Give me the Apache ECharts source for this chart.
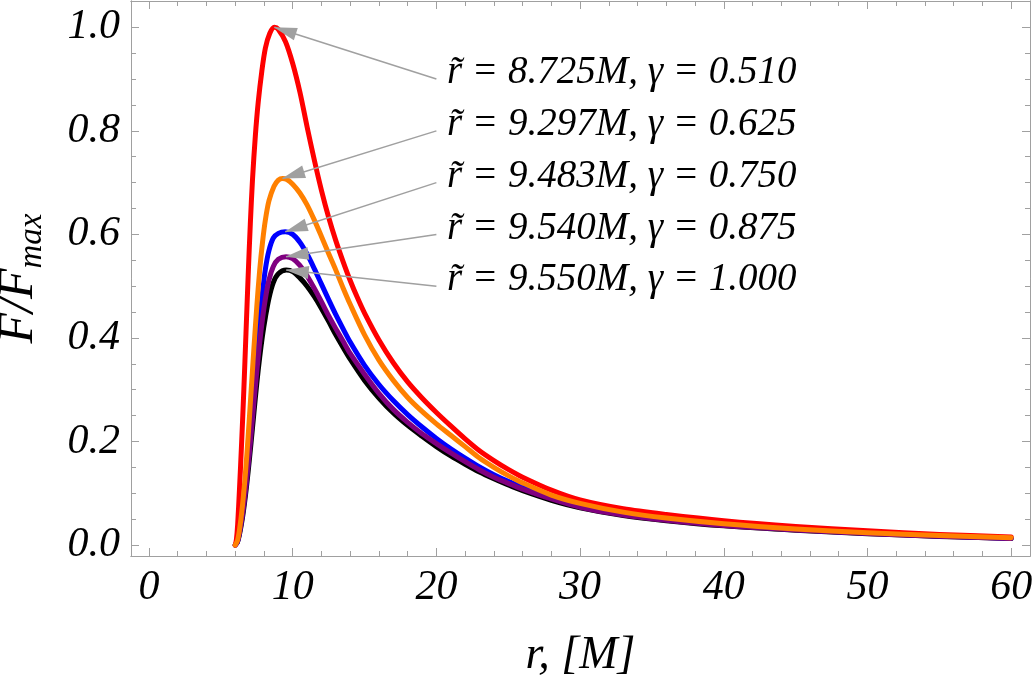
<!DOCTYPE html>
<html><head><meta charset="utf-8">
<script src="https://cdn.jsdelivr.net/npm/echarts@6/dist/echarts.min.js"></script>
<style>html,body{margin:0;padding:0;background:#fff}#c{width:1035px;height:681px}</style>
</head><body><div id="c"></div>
<script>
// ---- tick labels ----
const xMajorTicks = [0, 10, 20, 30, 40, 50, 60];
const xMinorTicks = [2, 4, 6, 8, 12, 14, 16, 18, 22, 24, 26, 28, 32, 34, 36, 38, 42, 44, 46, 48, 52, 54, 56, 58];
const yMajorTicks = [0, 0.2, 0.4, 0.6, 0.8, 1.0];
const yMinorTicks = [0.05, 0.1, 0.15, 0.25, 0.3, 0.35, 0.45, 0.5, 0.55, 0.65, 0.7, 0.75, 0.85, 0.9, 0.95];

// ---- series values [r, F/Fmax] ----
const curveG0510 = [[6.0,0],[6.08,0.01],[6.17,0.04],[6.3,0.11],[6.45,0.2],[6.6,0.3],[6.75,0.41],[6.9,0.52],[7.05,0.62],[7.2,0.705],[7.4,0.79],[7.6,0.855],[7.85,0.915],[8.1,0.96],[8.4,0.988],[8.725,1.0],[9.0,0.996],[9.5,0.972],[10,0.93],[10.5,0.875],[11,0.808],[11.5,0.744],[12,0.685],[12.5,0.633],[13,0.588],[13.5,0.548],[14,0.511],[14.5,0.478],[15,0.448],[16,0.396],[17,0.352],[18,0.315],[19,0.284],[20,0.256],[21,0.23],[22,0.205],[23,0.182],[24,0.163],[25,0.146],[26,0.131],[28,0.106],[30,0.087],[33,0.07],[36,0.059],[40,0.047],[45,0.036],[50,0.0275],[55,0.0205],[60,0.0155]];
const curveG0625 = [[6.0,0],[6.15,0.008],[6.3,0.03],[6.5,0.075],[6.7,0.135],[6.9,0.21],[7.1,0.295],[7.3,0.38],[7.5,0.46],[7.7,0.53],[7.9,0.585],[8.1,0.628],[8.35,0.665],[8.7,0.693],[9.0,0.705],[9.297,0.708],[9.6,0.706],[10,0.697],[10.5,0.68],[11,0.657],[11.5,0.628],[12,0.596],[12.5,0.563],[13,0.531],[13.5,0.497],[14,0.465],[15,0.406],[16,0.357],[17,0.318],[18,0.285],[19,0.258],[20,0.234],[21,0.212],[22,0.19],[23,0.168],[24,0.15],[25,0.134],[26,0.12],[28,0.0965],[30,0.0805],[33,0.0635],[36,0.052],[40,0.041],[45,0.031],[50,0.0238],[55,0.0182],[60,0.014]];
const curveG0750 = [[6.0,0],[6.15,0.006],[6.3,0.025],[6.5,0.06],[6.7,0.105],[6.9,0.16],[7.1,0.225],[7.3,0.295],[7.5,0.365],[7.7,0.43],[7.9,0.488],[8.1,0.533],[8.35,0.569],[8.65,0.593],[9.0,0.602],[9.483,0.605],[10,0.6],[10.5,0.585],[11,0.562],[11.5,0.534],[12,0.504],[12.5,0.474],[13,0.445],[13.5,0.418],[14,0.392],[15,0.347],[16,0.31],[17,0.279],[18,0.252],[19,0.228],[20,0.206],[21,0.186],[22,0.168],[23,0.151],[24,0.136],[25,0.123],[26,0.112],[28,0.092],[30,0.076],[33,0.06],[36,0.0495],[40,0.039],[45,0.03],[50,0.023],[55,0.0175],[60,0.0133]];
const curveG0875 = [[6.0,0],[6.15,0.006],[6.3,0.024],[6.5,0.058],[6.7,0.102],[6.9,0.155],[7.1,0.213],[7.3,0.275],[7.5,0.335],[7.7,0.39],[7.9,0.437],[8.1,0.476],[8.35,0.512],[8.65,0.538],[9.0,0.552],[9.54,0.557],[10,0.553],[10.5,0.54],[11,0.52],[11.5,0.496],[12,0.47],[12.5,0.443],[13,0.418],[13.5,0.394],[14,0.37],[15,0.33],[16,0.293],[17,0.262],[18,0.237],[19,0.215],[20,0.196],[21,0.178],[22,0.161],[23,0.145],[24,0.131],[25,0.119],[26,0.108],[28,0.089],[30,0.073],[33,0.058],[36,0.0478],[40,0.0375],[45,0.029],[50,0.0223],[55,0.017],[60,0.0128]];
const curveG1000 = [[6.0,0],[6.15,0.005],[6.3,0.021],[6.5,0.052],[6.7,0.093],[6.9,0.142],[7.1,0.197],[7.3,0.255],[7.5,0.312],[7.7,0.362],[7.9,0.405],[8.1,0.44],[8.35,0.477],[8.65,0.507],[9.0,0.524],[9.55,0.531],[10,0.528],[10.5,0.516],[11,0.5],[11.5,0.48],[12,0.457],[12.5,0.432],[13,0.406],[13.5,0.382],[14,0.359],[15,0.318],[16,0.284],[17,0.255],[18,0.231],[19,0.21],[20,0.19],[21,0.172],[22,0.156],[23,0.141],[24,0.128],[25,0.116],[26,0.105],[28,0.0865],[30,0.072],[33,0.057],[36,0.047],[40,0.037],[45,0.0285],[50,0.022],[55,0.0167],[60,0.0125]];

// ---- annotations ----
const annTexts = ['r\u0303 = 8.725M, \u03b3 = 0.510', 'r\u0303 = 9.297M, \u03b3 = 0.625', 'r\u0303 = 9.483M, \u03b3 = 0.750', 'r\u0303 = 9.540M, \u03b3 = 0.875', 'r\u0303 = 9.550M, \u03b3 = 1.000'];
const annStart = [[20, 0.9], [20, 0.8], [20, 0.7], [20, 0.6], [20, 0.5]];
const annPeaks = [[8.725, 1.0], [9.297, 0.708], [9.483, 0.605], [9.54, 0.557], [9.55, 0.531]];

const FONT = "'Liberation Serif', 'Times New Roman', serif";
const GRAY = '#a0a0a0';
const X_MIN = -1.253, X_MAX = 61.31, Y_MIN = -0.0212, Y_MAX = 1.0508;

function xAx(pos, ticks, len, labels) {
  return {
    type: 'value', gridIndex: 0, position: pos, min: X_MIN, max: X_MAX,
    axisLine: { show: true, onZero: false, lineStyle: { color: GRAY, width: 1 } },
    axisTick: { show: true, inside: true, length: len, customValues: ticks, lineStyle: { color: GRAY, width: 1 } },
    axisLabel: labels ? { show: true, customValues: ticks, margin: 11, fontFamily: FONT, fontStyle: 'italic', fontSize: 42, color: '#000' } : { show: false },
    splitLine: { show: false }
  };
}
function yAx(pos, ticks, len, labels) {
  return {
    type: 'value', gridIndex: 0, position: pos, min: Y_MIN, max: Y_MAX,
    axisLine: { show: true, onZero: false, lineStyle: { color: GRAY, width: 1 } },
    axisTick: { show: true, inside: true, length: len, customValues: ticks, lineStyle: { color: GRAY, width: 1 } },
    axisLabel: labels ? { show: true, customValues: ticks, margin: 11, fontFamily: FONT, fontStyle: 'italic', fontSize: 42, color: '#000', formatter: v => v.toFixed(1) } : { show: false },
    splitLine: { show: false }
  };
}

const xAxes = [xAx('bottom', xMajorTicks, 8, true), xAx('bottom', xMinorTicks, 5, false), xAx('top', xMajorTicks, 8, false), xAx('top', xMinorTicks, 5, false)];
Object.assign(xAxes[0], {
  name: 'r, [M]', nameLocation: 'middle', nameGap: 77,
  nameTextStyle: { fontFamily: FONT, fontStyle: 'italic', fontSize: 46, color: '#000' }
});
const yAxes = [yAx('left', yMajorTicks, 8, true), yAx('left', yMinorTicks, 5, false), yAx('right', yMajorTicks, 8, false), yAx('right', yMinorTicks, 5, false)];
Object.assign(yAxes[0], {
  name: '{a|F/F}{b|max}', nameLocation: 'middle', nameGap: 82, nameRotate: 90,
  nameTextStyle: {
    color: '#000',
    rich: {
      a: { fontFamily: FONT, fontStyle: 'italic', fontSize: 50, lineHeight: 60, color: '#000' },
      b: { fontFamily: FONT, fontStyle: 'italic', fontSize: 33, lineHeight: 30, verticalAlign: 'bottom', color: '#000' }
    }
  }
});

function curve(name, data, color) {
  return {
    name, type: 'line', data, xAxisIndex: 0, yAxisIndex: 0,
    showSymbol: false, smooth: 0.3,
    lineStyle: { color, width: 5, cap: 'round', join: 'round' }, itemStyle: { color }, silent: true
  };
}

const option = {
  animation: false,
  grid: { left: 131, right: 5, top: 1, bottom: 125, containLabel: false, outerBoundsMode: 'none' },
  xAxis: xAxes,
  yAxis: yAxes,
  series: [
    curve('γ = 1.000', curveG1000, '#000000'),
    curve('γ = 0.750', curveG0750, '#0000ff'),
    curve('γ = 0.875', curveG0875, '#800080'),
    curve('γ = 0.510', curveG0510, '#ff0000'),
    curve('γ = 0.625', curveG0625, '#ff8000'),
    {
      name: 'annotations', type: 'scatter', xAxisIndex: 0, yAxisIndex: 0,
      symbolSize: 1, itemStyle: { color: 'rgba(0,0,0,0)' }, silent: true,
      data: annStart.map((p, i) => ({ value: p, name: annTexts[i] })),
      label: {
        show: true, position: 'right', distance: 10, offset: [0, -6],
        formatter: p => p.name, opacity: 1,
        fontFamily: FONT, fontStyle: 'italic', fontSize: 39, color: '#000'
      },
      markLine: {
        silent: true, animation: false,
        symbol: ['none', 'triangle'], symbolSize: [13, 23], symbolOffset: [[0, 0], [0, 11]],
        lineStyle: { color: GRAY, width: 1.5, type: 'solid' },
        label: { show: false },
        data: annStart.map((p, i) => [{ coord: p }, { coord: annPeaks[i] }])
      }
    }
  ]
};
const chart = echarts.init(document.getElementById('c'), null, { renderer: 'canvas' });
chart.setOption(option);
</script>
</body></html>
